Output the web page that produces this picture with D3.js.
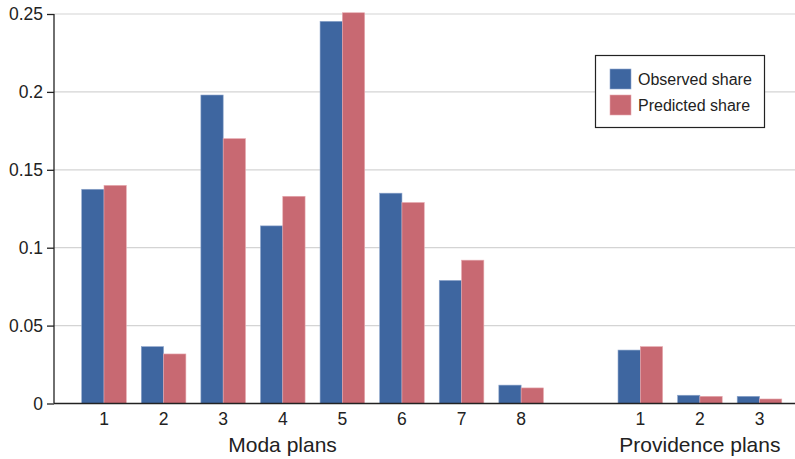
<!DOCTYPE html>
<html>
<head>
<meta charset="utf-8">
<script src="https://cdn.jsdelivr.net/npm/d3@7"></script>
<style>
  body { margin: 0; background: #fff; }
  svg { display: block; font-family: "Liberation Sans", Arial, Helvetica, sans-serif; }
</style>
</head>
<body>
<svg id="chart" width="795" height="459"></svg>
<script>
const modaPlans = ["1", "2", "3", "4", "5", "6", "7", "8"];
const providencePlans = ["1", "2", "3"];
const modaObserved = [0.1375, 0.0365, 0.198, 0.114, 0.2453, 0.135, 0.079, 0.0118];
const modaPredicted = [0.140, 0.0318, 0.170, 0.133, 0.2508, 0.129, 0.092, 0.0100];
const provObserved = [0.0343, 0.0053, 0.0046];
const provPredicted = [0.0365, 0.0046, 0.0029];
const yTicks = [0, 0.05, 0.1, 0.15, 0.2, 0.25];
const yTickLabels = ["0", "0.05", "0.1", "0.15", "0.2", "0.25"];
const seriesNames = ["Observed share", "Predicted share"];
const groupNames = ["Moda plans", "Providence plans"];

const colors = ["#3e66a0", "#c86972"];
const strokes = ["#8ea6cc", "#e6a9af"];

// slot positions: moda 0..7, gap at 8, providence 9..11
const rows = [];
modaPlans.forEach((p, i) => rows.push({slot: i, label: p, vals: [modaObserved[i], modaPredicted[i]]}));
providencePlans.forEach((p, i) => rows.push({slot: 9 + i, label: p, vals: [provObserved[i], provPredicted[i]]}));

const svg = d3.select("#chart");
const mLeft = 54, mRight = 795, mTop = 14, mBottom = 403.5;

const x = d3.scaleLinear().domain([0, 11]).range([104, 759.5]);
const y = d3.scaleLinear().domain([0, 0.25]).range([mBottom, mTop]);
const barW = 22.3;

// gridlines
svg.append("g").selectAll("line").data(yTicks.slice(1)).join("line")
  .attr("x1", mLeft).attr("x2", mRight)
  .attr("y1", d => y(d)).attr("y2", d => y(d))
  .attr("stroke", "#d4d4d4").attr("stroke-width", 1.2);

// bars
const g = svg.append("g");
rows.forEach(r => {
  r.vals.forEach((v, k) => {
    const x0 = x(r.slot) - barW + k * barW;
    g.append("rect")
      .attr("x", x0).attr("width", barW)
      .attr("y", y(v)).attr("height", y(0) - y(v))
      .attr("fill", colors[k])
      .attr("stroke", strokes[k]).attr("stroke-width", 0.6);
  });
});

// y axis
const yAxis = d3.axisLeft(y).tickValues(yTicks)
  .tickFormat((d, i) => yTickLabels[i]).tickSize(7).tickPadding(4);
const ya = svg.append("g").attr("transform", `translate(${mLeft},0)`).call(yAxis);
ya.select(".domain").attr("stroke", "#222").attr("stroke-width", 1.3).attr("d", `M0,${mTop}V${mBottom}`);
ya.selectAll(".tick line").attr("stroke", "#222").attr("stroke-width", 1.3);
ya.selectAll(".tick text").attr("font-size", 17.5).attr("fill", "#222")
  .attr("font-family", "Liberation Sans, Arial, sans-serif");

// x axis baseline
svg.append("line").attr("x1", mLeft).attr("x2", mRight)
  .attr("y1", mBottom).attr("y2", mBottom)
  .attr("stroke", "#222").attr("stroke-width", 1.5);

// x tick labels
svg.append("g").selectAll("text").data(rows).join("text")
  .attr("x", d => x(d.slot)).attr("y", 425)
  .attr("text-anchor", "middle").attr("font-size", 17.5).attr("fill", "#222")
  .text(d => d.label);

// group labels
svg.append("text").attr("x", (x(0) + x(7)) / 2 - 30).attr("y", 452)
  .attr("text-anchor", "middle").attr("font-size", 21).attr("fill", "#222")
  .text(groupNames[0]);
svg.append("text").attr("x", x(10)).attr("y", 452)
  .attr("text-anchor", "middle").attr("font-size", 21).attr("fill", "#222")
  .text(groupNames[1]);

// legend
const lg = svg.append("g");
lg.append("rect").attr("x", 595.5).attr("y", 55.5).attr("width", 169).attr("height", 72)
  .attr("fill", "#fff").attr("stroke", "#222").attr("stroke-width", 1.2);
seriesNames.forEach((s, i) => {
  lg.append("rect").attr("x", 610).attr("y", 69 + i * 26).attr("width", 21).attr("height", 20)
    .attr("fill", colors[i]).attr("stroke", strokes[i]).attr("stroke-width", 0.6);
  lg.append("text").attr("x", 638).attr("y", 85 + i * 26)
    .attr("font-size", 16).attr("fill", "#222").text(s);
});
</script>
</body>
</html>
